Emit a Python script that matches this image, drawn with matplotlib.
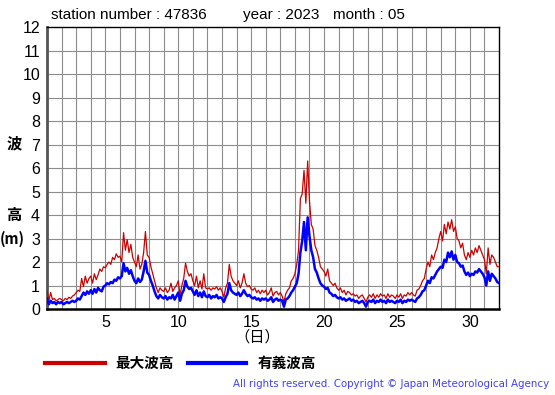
import numpy as np
import matplotlib
matplotlib.use("Agg")
import matplotlib.pyplot as plt

plt.rcParams['font.family'] = ['Liberation Sans', 'Noto Sans CJK JP', 'DejaVu Sans']

station = "47836"
year = "2023"
month = "05"

# 3-hourly samples, day 1.0 .. 32.0 (8 per day, last value at 32.0)
max_height = [
    0.8, 0.35, 0.7, 0.4, 0.45, 0.35, 0.4, 0.45,    # 1
    0.4, 0.35, 0.45, 0.4, 0.5, 0.45, 0.55, 0.6,    # 2
    0.7, 0.8, 0.75, 1.3, 0.95, 1.4, 1.1, 1.3,      # 3
    1.4, 1.1, 1.5, 1.25, 1.45, 1.7, 1.6, 1.8,      # 4
    1.75, 1.9, 2.0, 1.9, 2.2, 2.1, 2.35, 2.2,      # 5
    2.25, 2.0, 3.25, 2.5, 2.95, 2.4, 2.75, 2.2,    # 6
    2.0, 1.8, 2.3, 1.7, 1.9, 2.4, 3.3, 2.3,        # 7
    2.2, 1.8, 1.5, 1.2, 0.9, 0.7, 0.9, 0.8,        # 8
    0.75, 0.9, 0.7, 0.8, 1.1, 0.75, 0.9, 1.0,      # 9
    1.2, 0.6, 1.0, 1.3, 1.95, 1.6, 1.4, 1.5,       # 10
    1.2, 1.0, 1.4, 0.9, 1.2, 0.85, 1.5, 0.9,       # 11
    0.85, 0.9, 0.8, 0.9, 0.85, 0.95, 0.8, 0.9,     # 12
    0.75, 0.5, 0.9, 1.1, 1.9, 1.4, 1.2, 1.1,       # 13
    1.0, 1.2, 0.9, 1.1, 1.5, 1.1, 0.95, 1.0,       # 14
    0.85, 0.8, 0.9, 0.7, 0.8, 0.65, 0.8, 0.7,      # 15
    0.8, 0.6, 0.7, 0.9, 0.55, 0.7, 0.75, 0.6,      # 16
    0.7, 0.55, 0.3, 0.65, 0.8, 0.9, 1.2, 1.3,      # 17
    1.5, 1.9, 2.5, 4.7, 4.9, 5.9, 4.5, 6.3,        # 18
    4.6, 3.6, 3.4, 2.7, 2.5, 2.2, 1.8, 1.7,        # 19
    1.6, 1.4, 1.7, 1.2, 1.1, 1.0, 1.1, 0.9,        # 20
    0.8, 0.9, 0.7, 0.8, 0.6, 0.75, 0.7, 0.6,       # 21
    0.65, 0.55, 0.6, 0.45, 0.55, 0.6, 0.45, 0.3,   # 22
    0.5, 0.6, 0.5, 0.65, 0.45, 0.6, 0.5, 0.65,     # 23
    0.55, 0.6, 0.45, 0.65, 0.5, 0.6, 0.55, 0.45,   # 24
    0.6, 0.5, 0.65, 0.45, 0.6, 0.55, 0.7, 0.6,     # 25
    0.7, 0.6, 0.55, 0.8, 0.85, 1.0, 1.2, 1.3,      # 26
    1.7, 2.0, 1.8, 2.3, 2.1, 2.4, 2.6, 3.0,        # 27
    3.3, 2.9, 3.6, 3.2, 3.7, 3.4, 3.8, 3.3,        # 28
    3.5, 3.0, 2.9, 2.6, 2.8, 2.3, 2.1, 2.4,        # 29
    2.2, 2.5, 2.3, 2.6, 2.4, 2.7, 2.5, 2.3,        # 30
    2.1, 1.5, 2.6, 1.9, 2.3, 2.2, 2.0, 1.8,        # 31
    1.8,
]

sig_height = [
    0.45, 0.2, 0.35, 0.25, 0.3, 0.2, 0.3, 0.25,    # 1
    0.3, 0.2, 0.25, 0.3, 0.25, 0.3, 0.35, 0.3,     # 2
    0.35, 0.45, 0.4, 0.55, 0.7, 0.6, 0.75, 0.65,   # 3
    0.8, 0.65, 0.85, 0.7, 0.9, 0.8, 0.75, 0.95,    # 4
    1.0, 1.1, 1.05, 1.15, 1.1, 1.25, 1.2, 1.35,    # 5
    1.3, 1.4, 1.95, 1.6, 1.75, 1.5, 1.65, 1.4,     # 6
    1.2, 1.1, 1.3, 1.15, 1.25, 1.6, 2.05, 1.55,    # 7
    1.45, 1.2, 1.0, 0.75, 0.55, 0.45, 0.6, 0.5,    # 8
    0.45, 0.55, 0.4, 0.5, 0.45, 0.6, 0.4, 0.55,    # 9
    0.7, 0.35, 0.65, 0.8, 1.2, 0.95, 0.85, 0.9,    # 10
    0.75, 0.6, 0.8, 0.55, 0.7, 0.5, 0.75, 0.55,    # 11
    0.5, 0.6, 0.45, 0.55, 0.5, 0.6, 0.45, 0.5,     # 12
    0.45, 0.3, 0.5, 0.65, 1.1, 0.8, 0.7, 0.65,     # 13
    0.6, 0.7, 0.55, 0.65, 0.8, 0.65, 0.55, 0.6,    # 14
    0.5, 0.45, 0.5, 0.4, 0.45, 0.35, 0.45, 0.4,    # 15
    0.45, 0.35, 0.4, 0.5, 0.3, 0.4, 0.45, 0.35,    # 16
    0.4, 0.35, 0.1, 0.4, 0.45, 0.55, 0.7, 0.8,     # 17
    0.95, 1.1, 1.5, 2.4, 2.9, 3.7, 2.5, 3.9,       # 18
    3.1, 2.5, 2.2, 1.7, 1.55, 1.3, 1.1, 1.0,       # 19
    0.95, 0.85, 0.9, 0.7, 0.65, 0.55, 0.6, 0.5,    # 20
    0.45, 0.5, 0.4, 0.45, 0.35, 0.4, 0.45, 0.35,   # 21
    0.4, 0.3, 0.35, 0.25, 0.3, 0.35, 0.25, 0.1,    # 22
    0.3, 0.35, 0.3, 0.4, 0.25, 0.35, 0.3, 0.4,     # 23
    0.3, 0.35, 0.25, 0.4, 0.3, 0.35, 0.3, 0.25,    # 24
    0.35, 0.3, 0.4, 0.25, 0.35, 0.3, 0.4, 0.35,    # 25
    0.4, 0.35, 0.3, 0.45, 0.5, 0.6, 0.75, 0.8,     # 26
    1.0, 1.2, 1.1, 1.35, 1.3, 1.45, 1.6, 1.7,      # 27
    1.8, 1.75, 2.1, 2.0, 2.4, 2.2, 2.45, 2.1,      # 28
    2.3, 2.0, 1.95, 1.8, 1.85, 1.6, 1.45, 1.55,    # 29
    1.4, 1.5, 1.45, 1.6, 1.55, 1.7, 1.6, 1.5,      # 30
    1.35, 1.0, 1.6, 1.2, 1.5, 1.4, 1.3, 1.15,      # 31
    1.1,
]

x_ticks = [5, 10, 15, 20, 25, 30]
y_ticks = list(range(0, 13))

days = 1 + np.arange(len(max_height)) / 8

fig = plt.figure(figsize=(5.55, 3.95), dpi=100)
ax = fig.add_axes([0.0847, 0.2177, 0.8145, 0.7139])

# grid every day / every metre
for d in range(2, 32):
    ax.axvline(d, color="#8c8c8c", lw=0.8, zorder=1)
for h in range(1, 12):
    ax.axhline(h, color="#8c8c8c", lw=0.8, zorder=1)

ax.plot(days, max_height, color="#cc0000", lw=0.9, zorder=3)
ax.plot(days, sig_height, color="#0000ff", lw=1.8, zorder=4)

ax.set_xlim(1, 32)
ax.set_ylim(0, 12)
ax.set_xticks(x_ticks)
ax.set_yticks(y_ticks)
ax.tick_params(length=0, labelsize=11.5, pad=4)
ax.tick_params(axis="y", pad=5)

ax.spines["left"].set_color("#555555")
ax.spines["left"].set_linewidth(2)
ax.spines["bottom"].set_linewidth(1.8)
ax.spines["top"].set_linewidth(1)
ax.spines["right"].set_linewidth(1)

# header pieces
head_y = 1 - 15 / 395
fig.text(51 / 555, head_y, f"station number : {station}", fontsize=11,
         va="center", ha="left")
fig.text(243 / 555, head_y, f"year : {year}", fontsize=11,
         va="center", ha="left")
fig.text(333 / 555, head_y, f"month : {month}", fontsize=11,
         va="center", ha="left")

# y label, stacked characters
cjk = ['Noto Sans CJK JP', 'DejaVu Sans']
fig.text(14 / 555, 1 - 143 / 395, "波", fontsize=11, fontweight="bold",
         family=cjk, ha="center", va="center")
fig.text(14 / 555, 1 - 215 / 395, "高", fontsize=11, fontweight="bold",
         family=cjk, ha="center", va="center")
fig.text(12 / 555, 1 - 239 / 395, "(m)", fontsize=10.5, fontweight="bold",
         family=cjk, ha="center", va="center")
fig.text(257 / 555, 1 - 337 / 395, "（日）", fontsize=11,
         family=cjk, ha="center", va="center")

# legend drawn by hand below the chart
fig.add_artist(plt.Line2D([45 / 555, 105 / 555], [1 - 363 / 395] * 2,
                          color="#cc0000", lw=3))
fig.text(115 / 555, 1 - 363 / 395, "最大波高", fontsize=10.5, fontweight="bold",
         family=cjk, ha="left", va="center")
fig.add_artist(plt.Line2D([188 / 555, 246 / 555], [1 - 363 / 395] * 2,
                          color="#0000ff", lw=3))
fig.text(258 / 555, 1 - 363 / 395, "有義波高", fontsize=10.5, fontweight="bold",
         family=cjk, ha="left", va="center")

fig.text(549 / 555, 1 - 384 / 395,
         "All rights reserved. Copyright © Japan Meteorological Agency",
         fontsize=7.4, color="#3f3fff", ha="right", va="center",
         family=['DejaVu Sans'])

fig.savefig("out.png", dpi=100)
